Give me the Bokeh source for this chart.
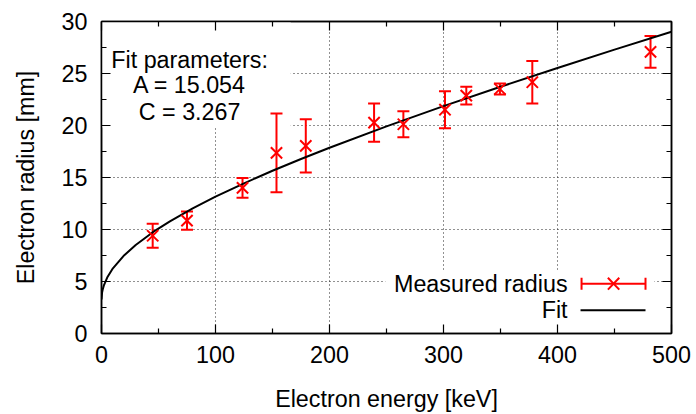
from bokeh.plotting import figure
from bokeh.models import (LinearAxis, FixedTicker, Whisker, ColumnDataSource, Range1d,
                          BoxAnnotation, Label, Arrow, TeeHead, CustomLabelingPolicy)
from bokeh.embed import file_html
from bokeh.resources import INLINE

# ---- data ----
energy = [44.9, 75.0, 123.7, 153.5, 179.2, 239.1, 264.8, 301.3, 320.0, 349.5, 377.9, 481.6]
radius = [9.4, 10.85, 14.0, 17.37, 18.04, 20.28, 20.12, 21.52, 22.87, 23.51, 24.16, 27.08]
radius_err = [1.15, 0.88, 0.95, 3.79, 2.57, 1.84, 1.26, 1.78, 0.85, 0.53, 2.04, 1.52]

fit_energy = [0, 0.5, 1, 2, 5, 10, 20, 30, 45, 60, 80, 100, 125, 150, 175, 200,
              250, 300, 350, 400, 450, 500]
fit_radius = [3.27, 3.93, 4.21, 4.60, 5.38, 6.27, 7.53, 8.51, 9.74, 10.79, 12.03, 13.16,
              14.44, 15.65, 16.78, 17.86, 19.92, 21.86, 23.73, 25.53, 27.30, 29.02]

x_ticks = [0, 100, 200, 300, 400, 500]
x_minor = [50, 150, 250, 350, 450]
y_ticks = [0, 5, 10, 15, 20, 25, 30]
y_minor = [2.5, 7.5, 12.5, 17.5, 22.5, 27.5]

fit_text = ["Fit parameters:", "A = 15.054", "C = 3.267"]
legend_labels = ["Measured radius", "Fit"]

FONT = "Liberation Sans"
FS = "23.3px"
RED = "#ff0000"

p = figure(width=696, height=414, x_range=Range1d(0, 500), y_range=Range1d(0, 30),
           output_backend="svg", toolbar_location=None,
           min_border_left=101, min_border_right=25, min_border_top=21, min_border_bottom=80,
           x_axis_label="Electron energy [keV]", y_axis_label="Electron radius [mm]")
p.background_fill_color = "white"
p.border_fill_color = "white"
p.outline_line_color = "black"
p.outline_line_width = 1.5

xt = FixedTicker(ticks=x_ticks, minor_ticks=x_minor)
yt = FixedTicker(ticks=y_ticks, minor_ticks=y_minor)

no_labels = CustomLabelingPolicy(code="""
    for (const i of Array.from(indices)) { indices.unset(i) }
    return indices
""")

def style_axis(ax, show_labels):
    ax.axis_line_color = "black"
    ax.axis_line_width = 1.5
    ax.major_tick_in = 9
    ax.major_tick_out = 0
    ax.minor_tick_in = 5
    ax.minor_tick_out = 0
    ax.major_tick_line_color = "black"
    ax.minor_tick_line_color = "black"
    ax.major_tick_line_width = 1.2
    ax.minor_tick_line_width = 1.2
    if show_labels:
        ax.major_label_text_font = FONT
        ax.major_label_text_font_size = FS
        ax.major_label_text_color = "black"
        ax.axis_label_text_font = FONT
        ax.axis_label_text_font_size = FS
        ax.axis_label_text_font_style = "normal"
        ax.axis_label_text_color = "black"
    else:
        ax.major_label_text_font_size = "1px"
        ax.major_label_policy = no_labels
        ax.axis_label = None

p.xaxis[0].ticker = xt
p.yaxis[0].ticker = yt
style_axis(p.xaxis[0], True)
style_axis(p.yaxis[0], True)
p.xaxis[0].major_label_standoff = 12
p.xaxis[0].axis_label_standoff = 20
p.yaxis[0].major_label_standoff = 14
p.yaxis[0].axis_label_standoff = 20

top_ax = LinearAxis(ticker=xt)
right_ax = LinearAxis(ticker=yt)
style_axis(top_ax, False)
style_axis(right_ax, False)
p.add_layout(top_ax, "above")
p.add_layout(right_ax, "right")

for g, t in ((p.xgrid, xt), (p.ygrid, yt)):
    g.ticker = t
    g.grid_line_color = "#222222"
    g.grid_line_dash = "1 3"
    g.grid_line_width = 1

# white boxes behind the fit-parameter text and the key (hide grid there)
p.add_layout(BoxAnnotation(left=0, right=166, bottom=19.8, top=30, fill_color="white",
                           fill_alpha=1, line_color=None, level="underlay"))
p.add_layout(BoxAnnotation(left=249, right=485, bottom=0.8, top=6.1, fill_color="white",
                           fill_alpha=1, line_color=None, level="underlay"))

# fit curve
p.line(fit_energy, fit_radius, line_color="black", line_width=2)

# measured points with error bars
src = ColumnDataSource(dict(
    x=energy, y=radius,
    upper=[r + e for r, e in zip(radius, radius_err)],
    lower=[r - e for r, e in zip(radius, radius_err)],
))
p.add_layout(Whisker(source=src, base="x", upper="upper", lower="lower", dimension="height",
                     line_color=RED, line_width=2,
                     upper_head=TeeHead(size=12, line_color=RED, line_width=2),
                     lower_head=TeeHead(size=12, line_color=RED, line_width=2)))
p.scatter("x", "y", source=src, marker="x", size=16, line_color=RED, line_width=2)

# fit parameter text
for txt, yy in zip(fit_text, [26.33, 23.87, 21.31]):
    p.add_layout(Label(x=77.3, y=yy, text=txt, text_align="center", text_baseline="alphabetic",
                       text_font=FONT, text_font_size=FS, text_color="black"))

# key
key_y = [4.79, 2.23]
for txt, yy in zip(legend_labels, key_y):
    p.add_layout(Label(x=408.8, y=yy, text=txt, text_align="right", text_baseline="middle",
                       text_font=FONT, text_font_size=FS, text_color="black"))
p.add_layout(Arrow(x_start=421.1, y_start=key_y[0], x_end=477.2, y_end=key_y[0],
                   line_color=RED, line_width=2,
                   start=TeeHead(size=12, line_color=RED, line_width=2),
                   end=TeeHead(size=12, line_color=RED, line_width=2)))
mx, dx, dy = 449.2, 5.0, 0.57
p.add_layout(Arrow(x_start=mx - dx, y_start=key_y[0] - dy, x_end=mx + dx, y_end=key_y[0] + dy,
                   line_color=RED, line_width=2, end=None))
p.add_layout(Arrow(x_start=mx - dx, y_start=key_y[0] + dy, x_end=mx + dx, y_end=key_y[0] - dy,
                   line_color=RED, line_width=2, end=None))
p.add_layout(Arrow(x_start=420.2, y_start=key_y[1], x_end=477.2, y_end=key_y[1],
                   line_color="black", line_width=2, end=None))

open("out.html", "w").write(file_html(p, INLINE))
